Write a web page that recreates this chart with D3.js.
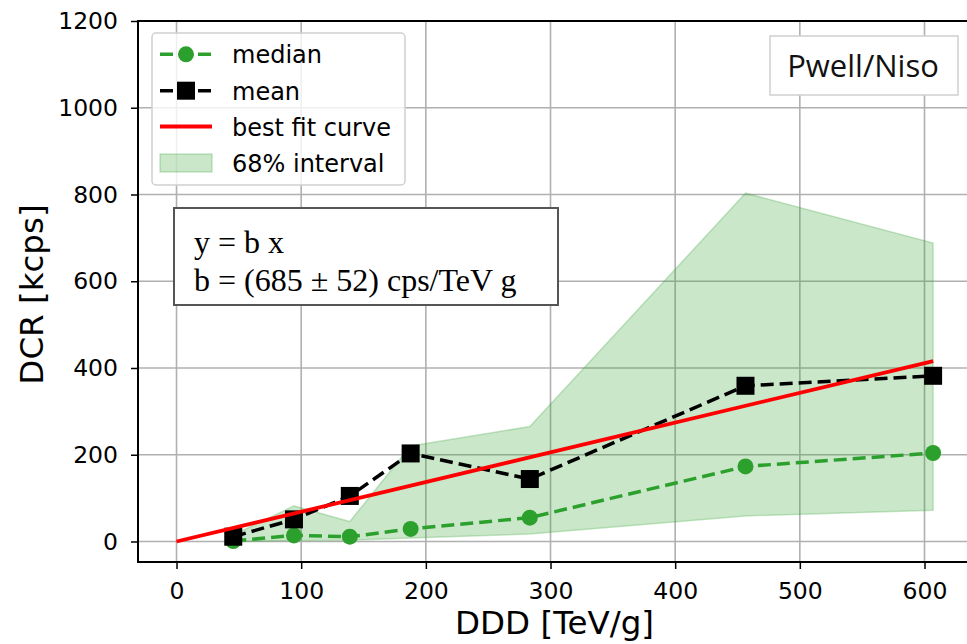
<!DOCTYPE html>
<html lang="en">

<head>
    <meta charset="UTF-8">
    <title>DCR vs DDD</title>
    <script src="https://d3js.org/d3.v7.min.js"></script>
    <style>
        body { margin: 0; background: #fff; }
    </style>
</head>

<body>
    <div id="chart"></div>
    <script>
        // data
        const ddd = [45.5, 94.2, 139, 187.8, 283.4, 456.4, 606.9];
        const median = [1, 14, 11, 29, 55, 173, 204];
        const mean = [11, 51, 105, 203, 144, 359, 382];
        const upper68 = [15, 82, 46, 220, 265, 803, 688];
        const lower68 = [0, 2, 3, 8, 17, 59, 72];
        const fitX = [0, 607];
        const fitY = [0, 416];
        const xTicks = [0, 100, 200, 300, 400, 500, 600];
        const yTicks = [0, 200, 400, 600, 800, 1000, 1200];
        const legendLabels = ['median', 'mean', 'best fit curve', '68% interval'];

        const width = 967;
        const height = 644;
        const plotLeft = 138, plotRight = 971, plotTop = 21, plotBottom = 562;
        const green = '#2ca02c';
        const sans = "'DejaVu Sans', sans-serif";
        const dash = '13,6';

        const svg = d3.select('#chart')
            .append('svg')
            .attr('width', width)
            .attr('height', height);

        const x = d3.scaleLinear().domain([-30.9, 637.3]).range([plotLeft, plotRight]);
        const y = d3.scaleLinear().domain([-47.3, 1200]).range([plotBottom, plotTop]);

        // gitter
        svg.append('g')
            .selectAll('line')
            .data(xTicks)
            .join('line')
            .attr('x1', d => x(d)).attr('x2', d => x(d))
            .attr('y1', plotTop).attr('y2', plotBottom)
            .attr('stroke', '#b0b0b0').attr('stroke-width', 1.6);
        svg.append('g')
            .selectAll('line')
            .data(yTicks)
            .join('line')
            .attr('x1', plotLeft).attr('x2', plotRight)
            .attr('y1', d => y(d)).attr('y2', d => y(d))
            .attr('stroke', '#b0b0b0').attr('stroke-width', 1.6);

        // 68% band
        const pts = ddd.map((d, i) => ({ x: d, lo: lower68[i], hi: upper68[i], med: median[i], mean: mean[i] }));
        svg.append('path')
            .datum(pts)
            .attr('d', d3.area().x(d => x(d.x)).y0(d => y(d.lo)).y1(d => y(d.hi)))
            .attr('fill', green).attr('fill-opacity', 0.25)
            .attr('stroke', green).attr('stroke-opacity', 0.25).attr('stroke-width', 1.5);

        // median
        svg.append('path')
            .datum(pts)
            .attr('d', d3.line().x(d => x(d.x)).y(d => y(d.med)))
            .attr('fill', 'none').attr('stroke', green)
            .attr('stroke-width', 3.5).attr('stroke-dasharray', dash);
        svg.append('g')
            .selectAll('circle')
            .data(pts)
            .join('circle')
            .attr('cx', d => x(d.x)).attr('cy', d => y(d.med))
            .attr('r', 8).attr('fill', green);

        // mean
        svg.append('path')
            .datum(pts)
            .attr('d', d3.line().x(d => x(d.x)).y(d => y(d.mean)))
            .attr('fill', 'none').attr('stroke', '#000')
            .attr('stroke-width', 3.5).attr('stroke-dasharray', dash);
        svg.append('g')
            .selectAll('rect')
            .data(pts)
            .join('rect')
            .attr('x', d => x(d.x) - 9).attr('y', d => y(d.mean) - 9)
            .attr('width', 18).attr('height', 18).attr('fill', '#000');

        // best fit
        svg.append('path')
            .datum(fitX.map((d, i) => [d, fitY[i]]))
            .attr('d', d3.line().x(d => x(d[0])).y(d => y(d[1])))
            .attr('fill', 'none').attr('stroke', '#ff0000').attr('stroke-width', 3.8);

        // akser
        const xAxis = svg.append('g')
            .attr('transform', `translate(0,${plotBottom})`)
            .call(d3.axisBottom(x).tickValues(xTicks).tickFormat(d => d).tickSize(7).tickPadding(13));
        const yAxis = svg.append('g')
            .attr('transform', `translate(${plotLeft},0)`)
            .call(d3.axisLeft(y).tickValues(yTicks).tickFormat(d => d).tickSize(7).tickPadding(13));
        [xAxis, yAxis].forEach(a => {
            a.select('.domain').remove();
            a.selectAll('line').attr('stroke', '#000').attr('stroke-width', 1.5);
            a.selectAll('text').attr('font-family', sans).attr('font-size', '23.5px').attr('fill', '#000');
        });

        // ramme
        svg.append('path')
            .attr('d', `M${plotRight},${plotTop}H${plotLeft}V${plotBottom}H${plotRight}`)
            .attr('fill', 'none').attr('stroke', '#000').attr('stroke-width', 2);

        // akse labels
        svg.append('text')
            .text('DDD [TeV/g]')
            .attr('x', (plotLeft + plotRight) / 2).attr('y', 634)
            .attr('text-anchor', 'middle')
            .attr('font-family', sans).attr('font-size', '32.5px');
        svg.append('text')
            .text('DCR [kcps]')
            .attr('transform', `translate(43,${(plotTop + plotBottom) / 2 + 3}) rotate(-90)`)
            .attr('text-anchor', 'middle')
            .attr('font-family', sans).attr('font-size', '32.5px');

        // legend
        const lg = svg.append('g');
        lg.append('rect')
            .attr('x', 152).attr('y', 33).attr('width', 253).attr('height', 152).attr('rx', 4)
            .attr('fill', '#fff').attr('fill-opacity', 0.8)
            .attr('stroke', '#d0d0d0').attr('stroke-width', 1.5);
        const rowY = [54.3, 90.7, 126.5, 163];
        lg.selectAll('text')
            .data(legendLabels)
            .join('text')
            .text(d => d)
            .attr('x', 232).attr('y', (d, i) => rowY[i] + 9)
            .attr('font-family', sans).attr('font-size', '24px').attr('fill', '#000');
        // median handle
        lg.append('line').attr('x1', 160).attr('x2', 212).attr('y1', rowY[0]).attr('y2', rowY[0])
            .attr('stroke', green).attr('stroke-width', 3.5).attr('stroke-dasharray', dash);
        lg.append('circle').attr('cx', 186).attr('cy', rowY[0]).attr('r', 8).attr('fill', green);
        // mean handle
        lg.append('line').attr('x1', 160).attr('x2', 212).attr('y1', rowY[1]).attr('y2', rowY[1])
            .attr('stroke', '#000').attr('stroke-width', 3.5).attr('stroke-dasharray', dash);
        lg.append('rect').attr('x', 177).attr('y', rowY[1] - 9).attr('width', 18).attr('height', 18).attr('fill', '#000');
        // fit handle
        lg.append('line').attr('x1', 160).attr('x2', 212).attr('y1', rowY[2]).attr('y2', rowY[2])
            .attr('stroke', '#ff0000').attr('stroke-width', 3.8);
        // band handle
        lg.append('rect').attr('x', 160).attr('y', rowY[3] - 9).attr('width', 52).attr('height', 18)
            .attr('fill', green).attr('fill-opacity', 0.25)
            .attr('stroke', green).attr('stroke-opacity', 0.25).attr('stroke-width', 1.5);

        // Pwell/Niso boks
        svg.append('rect')
            .attr('x', 770).attr('y', 36).attr('width', 188).attr('height', 59)
            .attr('fill', '#fff').attr('stroke', '#cfcfcf').attr('stroke-width', 1.5);
        svg.append('text')
            .text('Pwell/Niso')
            .attr('x', 863).attr('y', 77)
            .attr('text-anchor', 'middle')
            .attr('font-family', "'Open Sans', sans-serif").attr('font-size', '31px').attr('fill', '#111');

        // formel boks
        svg.append('rect')
            .attr('x', 174).attr('y', 208).attr('width', 384).attr('height', 97)
            .attr('fill', '#fff').attr('stroke', '#555').attr('stroke-width', 2);
        const eq = ['y = b x', 'b = (685 \u00b1 52) cps/TeV g'];
        svg.selectAll('text.eq')
            .data(eq)
            .join('text')
            .classed('eq', true)
            .text(d => d)
            .attr('x', 194).attr('y', (d, i) => 253 + i * 38)
            .attr('font-family', "'Liberation Serif', serif").attr('font-size', '32px').attr('fill', '#000');
    </script>
</body>

</html>
